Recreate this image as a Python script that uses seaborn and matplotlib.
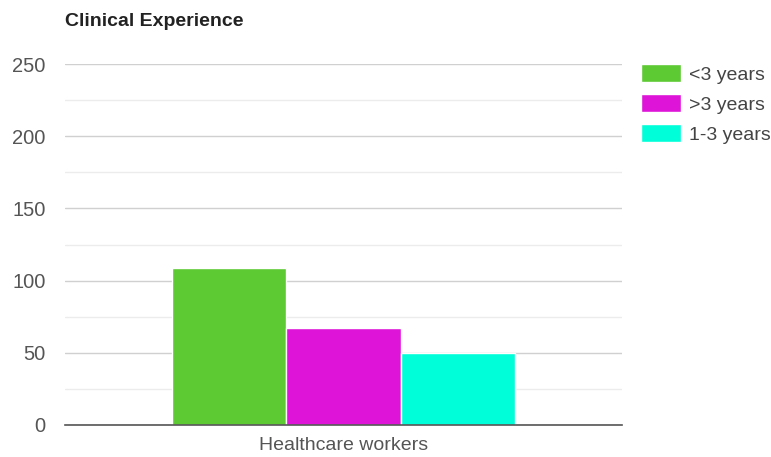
import matplotlib
matplotlib.use("Agg")
import matplotlib.pyplot as plt
import seaborn as sns
import pandas as pd

categories = ["Healthcare workers"]
groups = ["<3 years", ">3 years", "1-3 years"]
values = [109, 67, 50]
colors = ["#5DC933", "#DE14D8", "#00FFD8"]

df = pd.DataFrame({"category": categories * len(groups), "group": groups, "value": values})

sns.set_theme(style="white")
plt.rcParams['font.family'] = ['Liberation Sans', 'DejaVu Sans']

fig = plt.figure(figsize=(7.71, 4.57), dpi=100)
ax = fig.add_axes([65/771, 1-425/457, (622-65)/771, (425-64)/457])

sns.barplot(data=df, x="category", y="value", hue="group", hue_order=groups,
            palette=colors, width=0.616, ax=ax, edgecolor="white", linewidth=1,
            saturation=1, legend=True)

ax.set_xlim(-0.5, 0.5)
ax.set_ylim(0, 250)
ax.set_yticks([0, 50, 100, 150, 200, 250])
ax.set_yticks([25, 75, 125, 175, 225], minor=True)
ax.grid(axis="y", which="major", color="#d0d0d0", linewidth=1)
ax.grid(axis="y", which="minor", color="#ececec", linewidth=1)
ax.set_axisbelow(True)
for s in ["left", "right", "top"]:
    ax.spines[s].set_visible(False)
ax.spines["bottom"].set_color("#555555")
ax.spines["bottom"].set_linewidth(1.2)
ax.tick_params(axis="both", which="both", length=0, colors="#555555")
ax.tick_params(axis="y", pad=14, labelsize=14.5)
ax.tick_params(axis="x", pad=9, labelsize=14)
ax.set_xlabel("")
ax.set_ylabel("")

fig.text(65/771, 1-21/457, "Clinical Experience", fontsize=14, fontweight="bold",
         color="#222222", ha="left", va="center")

ax.legend(loc="upper left", bbox_to_anchor=(641/771, 1-64/457), bbox_transform=fig.transFigure,
          frameon=False, fontsize=14, handlelength=2.06, handleheight=1.03,
          labelspacing=0.55, borderpad=0, borderaxespad=0, handletextpad=0.4,
          labelcolor="#444444")

fig.savefig("out.png", dpi=100)
